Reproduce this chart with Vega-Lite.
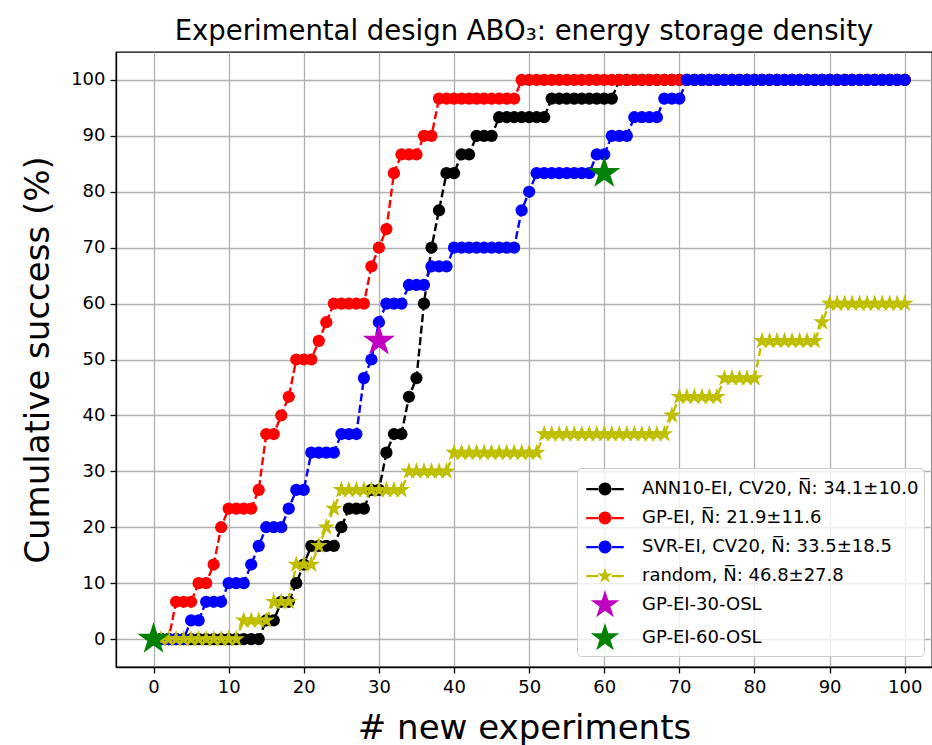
{
"$schema": "https://vega.github.io/schema/vega-lite/v6.json",
"width": 816, "height": 615,
"autosize": {"type": "none"},
"padding": {"left": 116, "top": 52, "right": 0, "bottom": 78},
"background": "white",
"title": {"text": "Experimental design ABO₃: energy storage density", "fontSize": 27.5, "font": "DejaVu Sans", "fontWeight": "normal", "color": "black", "offset": 7},
"config": {
  "font": "DejaVu Sans",
  "view": {"stroke": "black", "strokeWidth": 1.3},
  "axis": {"domainColor": "black", "domainWidth": 1.3, "tickColor": "black", "tickWidth": 1.3, "tickSize": 6, "labelFontSize": 18, "labelColor": "black", "labelFont": "DejaVu Sans", "titleFont": "DejaVu Sans", "titleFontWeight": "normal", "titleColor": "black", "gridColor": "#b0b0b0", "gridWidth": 1.3, "gridOpacity": 1, "labelPadding": 5}
},
"data": {"values": [
{"s":"A","x":0,"y":0},{"s":"A","x":1,"y":0},{"s":"A","x":2,"y":0},{"s":"A","x":3,"y":0},{"s":"A","x":4,"y":0},{"s":"A","x":5,"y":0},{"s":"A","x":6,"y":0},{"s":"A","x":7,"y":0},{"s":"A","x":8,"y":0},{"s":"A","x":9,"y":0},{"s":"A","x":10,"y":0},{"s":"A","x":11,"y":0},{"s":"A","x":12,"y":0},{"s":"A","x":13,"y":0},{"s":"A","x":14,"y":0},
{"s":"A","x":15,"y":3.33},{"s":"A","x":16,"y":3.33},{"s":"A","x":17,"y":6.67},{"s":"A","x":18,"y":6.67},{"s":"A","x":19,"y":10},{"s":"A","x":20,"y":13.33},
{"s":"A","x":21,"y":16.67},{"s":"A","x":22,"y":16.67},{"s":"A","x":23,"y":16.67},{"s":"A","x":24,"y":16.67},{"s":"A","x":25,"y":20},
{"s":"A","x":26,"y":23.33},{"s":"A","x":27,"y":23.33},{"s":"A","x":28,"y":23.33},{"s":"A","x":29,"y":26.67},{"s":"A","x":30,"y":26.67},
{"s":"A","x":31,"y":33.33},{"s":"A","x":32,"y":36.67},{"s":"A","x":33,"y":36.67},{"s":"A","x":34,"y":43.33},{"s":"A","x":35,"y":46.67},
{"s":"A","x":36,"y":60},{"s":"A","x":37,"y":70},{"s":"A","x":38,"y":76.67},{"s":"A","x":39,"y":83.33},{"s":"A","x":40,"y":83.33},
{"s":"A","x":41,"y":86.67},{"s":"A","x":42,"y":86.67},{"s":"A","x":43,"y":90},{"s":"A","x":44,"y":90},{"s":"A","x":45,"y":90},
{"s":"A","x":46,"y":93.33},{"s":"A","x":47,"y":93.33},{"s":"A","x":48,"y":93.33},{"s":"A","x":49,"y":93.33},{"s":"A","x":50,"y":93.33},{"s":"A","x":51,"y":93.33},{"s":"A","x":52,"y":93.33},
{"s":"A","x":53,"y":96.67},{"s":"A","x":54,"y":96.67},{"s":"A","x":55,"y":96.67},{"s":"A","x":56,"y":96.67},{"s":"A","x":57,"y":96.67},{"s":"A","x":58,"y":96.67},{"s":"A","x":59,"y":96.67},{"s":"A","x":60,"y":96.67},{"s":"A","x":61,"y":96.67},
{"s":"A","x":62,"y":100},{"s":"A","x":63,"y":100},{"s":"A","x":64,"y":100},{"s":"A","x":65,"y":100},{"s":"A","x":66,"y":100},{"s":"A","x":67,"y":100},{"s":"A","x":68,"y":100},{"s":"A","x":69,"y":100},{"s":"A","x":70,"y":100},
{"s":"A","x":71,"y":100},{"s":"A","x":72,"y":100},{"s":"A","x":73,"y":100},{"s":"A","x":74,"y":100},{"s":"A","x":75,"y":100},{"s":"A","x":76,"y":100},{"s":"A","x":77,"y":100},{"s":"A","x":78,"y":100},{"s":"A","x":79,"y":100},{"s":"A","x":80,"y":100},
{"s":"A","x":81,"y":100},{"s":"A","x":82,"y":100},{"s":"A","x":83,"y":100},{"s":"A","x":84,"y":100},{"s":"A","x":85,"y":100},{"s":"A","x":86,"y":100},{"s":"A","x":87,"y":100},{"s":"A","x":88,"y":100},{"s":"A","x":89,"y":100},{"s":"A","x":90,"y":100},
{"s":"A","x":91,"y":100},{"s":"A","x":92,"y":100},{"s":"A","x":93,"y":100},{"s":"A","x":94,"y":100},{"s":"A","x":95,"y":100},{"s":"A","x":96,"y":100},{"s":"A","x":97,"y":100},{"s":"A","x":98,"y":100},{"s":"A","x":99,"y":100},{"s":"A","x":100,"y":100},

{"s":"G","x":0,"y":0},{"s":"G","x":1,"y":0},{"s":"G","x":2,"y":0},{"s":"G","x":3,"y":6.67},{"s":"G","x":4,"y":6.67},{"s":"G","x":5,"y":6.67},
{"s":"G","x":6,"y":10},{"s":"G","x":7,"y":10},{"s":"G","x":8,"y":13.33},{"s":"G","x":9,"y":20},
{"s":"G","x":10,"y":23.33},{"s":"G","x":11,"y":23.33},{"s":"G","x":12,"y":23.33},{"s":"G","x":13,"y":23.33},{"s":"G","x":14,"y":26.67},
{"s":"G","x":15,"y":36.67},{"s":"G","x":16,"y":36.67},{"s":"G","x":17,"y":40},{"s":"G","x":18,"y":43.33},
{"s":"G","x":19,"y":50},{"s":"G","x":20,"y":50},{"s":"G","x":21,"y":50},{"s":"G","x":22,"y":53.33},{"s":"G","x":23,"y":56.67},
{"s":"G","x":24,"y":60},{"s":"G","x":25,"y":60},{"s":"G","x":26,"y":60},{"s":"G","x":27,"y":60},{"s":"G","x":28,"y":60},
{"s":"G","x":29,"y":66.67},{"s":"G","x":30,"y":70},{"s":"G","x":31,"y":73.33},{"s":"G","x":32,"y":83.33},
{"s":"G","x":33,"y":86.67},{"s":"G","x":34,"y":86.67},{"s":"G","x":35,"y":86.67},{"s":"G","x":36,"y":90},{"s":"G","x":37,"y":90},
{"s":"G","x":38,"y":96.67},{"s":"G","x":39,"y":96.67},{"s":"G","x":40,"y":96.67},{"s":"G","x":41,"y":96.67},{"s":"G","x":42,"y":96.67},{"s":"G","x":43,"y":96.67},{"s":"G","x":44,"y":96.67},{"s":"G","x":45,"y":96.67},{"s":"G","x":46,"y":96.67},{"s":"G","x":47,"y":96.67},{"s":"G","x":48,"y":96.67},
{"s":"G","x":49,"y":100},{"s":"G","x":50,"y":100},{"s":"G","x":51,"y":100},{"s":"G","x":52,"y":100},{"s":"G","x":53,"y":100},{"s":"G","x":54,"y":100},{"s":"G","x":55,"y":100},{"s":"G","x":56,"y":100},{"s":"G","x":57,"y":100},{"s":"G","x":58,"y":100},{"s":"G","x":59,"y":100},{"s":"G","x":60,"y":100},
{"s":"G","x":61,"y":100},{"s":"G","x":62,"y":100},{"s":"G","x":63,"y":100},{"s":"G","x":64,"y":100},{"s":"G","x":65,"y":100},{"s":"G","x":66,"y":100},{"s":"G","x":67,"y":100},{"s":"G","x":68,"y":100},{"s":"G","x":69,"y":100},{"s":"G","x":70,"y":100},
{"s":"G","x":71,"y":100},{"s":"G","x":72,"y":100},{"s":"G","x":73,"y":100},{"s":"G","x":74,"y":100},{"s":"G","x":75,"y":100},{"s":"G","x":76,"y":100},{"s":"G","x":77,"y":100},{"s":"G","x":78,"y":100},{"s":"G","x":79,"y":100},{"s":"G","x":80,"y":100},
{"s":"G","x":81,"y":100},{"s":"G","x":82,"y":100},{"s":"G","x":83,"y":100},{"s":"G","x":84,"y":100},{"s":"G","x":85,"y":100},{"s":"G","x":86,"y":100},{"s":"G","x":87,"y":100},{"s":"G","x":88,"y":100},{"s":"G","x":89,"y":100},{"s":"G","x":90,"y":100},
{"s":"G","x":91,"y":100},{"s":"G","x":92,"y":100},{"s":"G","x":93,"y":100},{"s":"G","x":94,"y":100},{"s":"G","x":95,"y":100},{"s":"G","x":96,"y":100},{"s":"G","x":97,"y":100},{"s":"G","x":98,"y":100},{"s":"G","x":99,"y":100},{"s":"G","x":100,"y":100},

{"s":"S","x":0,"y":0},{"s":"S","x":1,"y":0},{"s":"S","x":2,"y":0},{"s":"S","x":3,"y":0},{"s":"S","x":4,"y":0},{"s":"S","x":5,"y":3.33},{"s":"S","x":6,"y":3.33},
{"s":"S","x":7,"y":6.67},{"s":"S","x":8,"y":6.67},{"s":"S","x":9,"y":6.67},{"s":"S","x":10,"y":10},{"s":"S","x":11,"y":10},{"s":"S","x":12,"y":10},
{"s":"S","x":13,"y":13.33},{"s":"S","x":14,"y":16.67},{"s":"S","x":15,"y":20},{"s":"S","x":16,"y":20},{"s":"S","x":17,"y":20},{"s":"S","x":18,"y":23.33},
{"s":"S","x":19,"y":26.67},{"s":"S","x":20,"y":26.67},{"s":"S","x":21,"y":33.33},{"s":"S","x":22,"y":33.33},{"s":"S","x":23,"y":33.33},{"s":"S","x":24,"y":33.33},
{"s":"S","x":25,"y":36.67},{"s":"S","x":26,"y":36.67},{"s":"S","x":27,"y":36.67},{"s":"S","x":28,"y":46.67},{"s":"S","x":29,"y":50},{"s":"S","x":30,"y":56.67},
{"s":"S","x":31,"y":60},{"s":"S","x":32,"y":60},{"s":"S","x":33,"y":60},{"s":"S","x":34,"y":63.33},{"s":"S","x":35,"y":63.33},{"s":"S","x":36,"y":63.33},
{"s":"S","x":37,"y":66.67},{"s":"S","x":38,"y":66.67},{"s":"S","x":39,"y":66.67},
{"s":"S","x":40,"y":70},{"s":"S","x":41,"y":70},{"s":"S","x":42,"y":70},{"s":"S","x":43,"y":70},{"s":"S","x":44,"y":70},{"s":"S","x":45,"y":70},{"s":"S","x":46,"y":70},{"s":"S","x":47,"y":70},{"s":"S","x":48,"y":70},
{"s":"S","x":49,"y":76.67},{"s":"S","x":50,"y":80},
{"s":"S","x":51,"y":83.33},{"s":"S","x":52,"y":83.33},{"s":"S","x":53,"y":83.33},{"s":"S","x":54,"y":83.33},{"s":"S","x":55,"y":83.33},{"s":"S","x":56,"y":83.33},{"s":"S","x":57,"y":83.33},{"s":"S","x":58,"y":83.33},
{"s":"S","x":59,"y":86.67},{"s":"S","x":60,"y":86.67},{"s":"S","x":61,"y":90},{"s":"S","x":62,"y":90},{"s":"S","x":63,"y":90},
{"s":"S","x":64,"y":93.33},{"s":"S","x":65,"y":93.33},{"s":"S","x":66,"y":93.33},{"s":"S","x":67,"y":93.33},{"s":"S","x":68,"y":96.67},{"s":"S","x":69,"y":96.67},{"s":"S","x":70,"y":96.67},
{"s":"S","x":71,"y":100},{"s":"S","x":72,"y":100},{"s":"S","x":73,"y":100},{"s":"S","x":74,"y":100},{"s":"S","x":75,"y":100},{"s":"S","x":76,"y":100},{"s":"S","x":77,"y":100},{"s":"S","x":78,"y":100},{"s":"S","x":79,"y":100},{"s":"S","x":80,"y":100},
{"s":"S","x":81,"y":100},{"s":"S","x":82,"y":100},{"s":"S","x":83,"y":100},{"s":"S","x":84,"y":100},{"s":"S","x":85,"y":100},{"s":"S","x":86,"y":100},{"s":"S","x":87,"y":100},{"s":"S","x":88,"y":100},{"s":"S","x":89,"y":100},{"s":"S","x":90,"y":100},
{"s":"S","x":91,"y":100},{"s":"S","x":92,"y":100},{"s":"S","x":93,"y":100},{"s":"S","x":94,"y":100},{"s":"S","x":95,"y":100},{"s":"S","x":96,"y":100},{"s":"S","x":97,"y":100},{"s":"S","x":98,"y":100},{"s":"S","x":99,"y":100},{"s":"S","x":100,"y":100},

{"s":"R","x":0,"y":0},{"s":"R","x":1,"y":0},{"s":"R","x":2,"y":0},{"s":"R","x":3,"y":0},{"s":"R","x":4,"y":0},{"s":"R","x":5,"y":0},{"s":"R","x":6,"y":0},{"s":"R","x":7,"y":0},{"s":"R","x":8,"y":0},{"s":"R","x":9,"y":0},{"s":"R","x":10,"y":0},{"s":"R","x":11,"y":0},
{"s":"R","x":12,"y":3.33},{"s":"R","x":13,"y":3.33},{"s":"R","x":14,"y":3.33},{"s":"R","x":15,"y":3.33},{"s":"R","x":16,"y":6.67},{"s":"R","x":17,"y":6.67},{"s":"R","x":18,"y":6.67},
{"s":"R","x":19,"y":13.33},{"s":"R","x":20,"y":13.33},{"s":"R","x":21,"y":13.33},{"s":"R","x":22,"y":16.67},{"s":"R","x":23,"y":20},{"s":"R","x":24,"y":23.33},
{"s":"R","x":25,"y":26.67},{"s":"R","x":26,"y":26.67},{"s":"R","x":27,"y":26.67},{"s":"R","x":28,"y":26.67},{"s":"R","x":29,"y":26.67},{"s":"R","x":30,"y":26.67},{"s":"R","x":31,"y":26.67},{"s":"R","x":32,"y":26.67},{"s":"R","x":33,"y":26.67},
{"s":"R","x":34,"y":30},{"s":"R","x":35,"y":30},{"s":"R","x":36,"y":30},{"s":"R","x":37,"y":30},{"s":"R","x":38,"y":30},{"s":"R","x":39,"y":30},
{"s":"R","x":40,"y":33.33},{"s":"R","x":41,"y":33.33},{"s":"R","x":42,"y":33.33},{"s":"R","x":43,"y":33.33},{"s":"R","x":44,"y":33.33},{"s":"R","x":45,"y":33.33},{"s":"R","x":46,"y":33.33},{"s":"R","x":47,"y":33.33},{"s":"R","x":48,"y":33.33},{"s":"R","x":49,"y":33.33},{"s":"R","x":50,"y":33.33},{"s":"R","x":51,"y":33.33},
{"s":"R","x":52,"y":36.67},{"s":"R","x":53,"y":36.67},{"s":"R","x":54,"y":36.67},{"s":"R","x":55,"y":36.67},{"s":"R","x":56,"y":36.67},{"s":"R","x":57,"y":36.67},{"s":"R","x":58,"y":36.67},{"s":"R","x":59,"y":36.67},{"s":"R","x":60,"y":36.67},
{"s":"R","x":61,"y":36.67},{"s":"R","x":62,"y":36.67},{"s":"R","x":63,"y":36.67},{"s":"R","x":64,"y":36.67},{"s":"R","x":65,"y":36.67},{"s":"R","x":66,"y":36.67},{"s":"R","x":67,"y":36.67},{"s":"R","x":68,"y":36.67},
{"s":"R","x":69,"y":40},{"s":"R","x":70,"y":43.33},{"s":"R","x":71,"y":43.33},{"s":"R","x":72,"y":43.33},{"s":"R","x":73,"y":43.33},{"s":"R","x":74,"y":43.33},{"s":"R","x":75,"y":43.33},
{"s":"R","x":76,"y":46.67},{"s":"R","x":77,"y":46.67},{"s":"R","x":78,"y":46.67},{"s":"R","x":79,"y":46.67},{"s":"R","x":80,"y":46.67},
{"s":"R","x":81,"y":53.33},{"s":"R","x":82,"y":53.33},{"s":"R","x":83,"y":53.33},{"s":"R","x":84,"y":53.33},{"s":"R","x":85,"y":53.33},{"s":"R","x":86,"y":53.33},{"s":"R","x":87,"y":53.33},{"s":"R","x":88,"y":53.33},
{"s":"R","x":89,"y":56.67},{"s":"R","x":90,"y":60},{"s":"R","x":91,"y":60},{"s":"R","x":92,"y":60},{"s":"R","x":93,"y":60},{"s":"R","x":94,"y":60},{"s":"R","x":95,"y":60},{"s":"R","x":96,"y":60},{"s":"R","x":97,"y":60},{"s":"R","x":98,"y":60},{"s":"R","x":99,"y":60},{"s":"R","x":100,"y":60},

{"s":"P30","x":30,"y":53.33},
{"s":"P60","x":0,"y":0},{"s":"P60","x":60,"y":83.33}
]},
"encoding": {
  "x": {"field": "x", "type": "quantitative", "scale": {"domain": [-5, 103.63], "nice": false, "zero": false},
        "axis": {"values": [0,10,20,30,40,50,60,70,80,90,100], "title": "# new experiments", "titleFontSize": 34, "titlePadding": 15, "grid": true}},
  "y": {"field": "y", "type": "quantitative", "scale": {"domain": [-5, 105], "nice": false, "zero": false},
        "axis": {"values": [0,10,20,30,40,50,60,70,80,90,100], "title": "Cumulative success (%)", "titleFontSize": 34, "titlePadding": 15, "grid": true}}
},
"layer": [
  {"data": {"values": [{"s":"A","x":-50,"y":50},{"s":"G","x":-50,"y":50},{"s":"S","x":-50,"y":50},{"s":"R","x":-50,"y":50},{"s":"P30","x":-50,"y":50},{"s":"P60","x":-50,"y":50}]},
   "mark": {"type": "point", "filled": true, "clip": true, "opacity": 1},
   "encoding": {
     "color": {"field": "s", "type": "nominal",
       "scale": {"domain": ["A","G","S","R","P30","P60"], "range": ["#000000","#ff0000","#0000ff","#bfbf00","#bf00bf","#008000"]},
       "legend": {"title": null, "orient": "none", "legendX": 461, "legendY": 416, "padding": 5, "symbolOffset": 7, "symbolSize": 900, "labelOffset": 21, "rowPadding": 4, "labelFontSize": 18, "labelFont": "DejaVu Sans", "labelColor": "black", "labelLimit": 500, "fillColor": "rgba(255,255,255,0.8)", "strokeColor": "#cccccc", "cornerRadius": 4,
         "labelExpr": "datum.value === 'A' ? 'ANN10-EI, CV20, N\u0305: 34.1±10.0' : datum.value === 'G' ? 'GP-EI, N\u0305: 21.9±11.6' : datum.value === 'S' ? 'SVR-EI, CV20, N\u0305: 33.5±18.5' : datum.value === 'R' ? 'random, N\u0305: 46.8±27.8' : datum.value === 'P30' ? 'GP-EI-30-OSL' : 'GP-EI-60-OSL'"}},
     "shape": {"field": "s", "type": "nominal",
       "scale": {"domain": ["A","G","S","R","P30","P60"],
                 "range": ["M-1.25,-0.075L-0.4,-0.075L-0.4,0.075L-1.25,0.075ZM0.4,-0.075L1.25,-0.075L1.25,0.075L0.4,0.075ZM-0.43,0A0.43,0.43,0,1,0,0.43,0A0.43,0.43,0,1,0,-0.43,0Z",
                           "M-1.25,-0.075L-0.4,-0.075L-0.4,0.075L-1.25,0.075ZM0.4,-0.075L1.25,-0.075L1.25,0.075L0.4,0.075ZM-0.43,0A0.43,0.43,0,1,0,0.43,0A0.43,0.43,0,1,0,-0.43,0Z",
                           "M-1.25,-0.075L-0.4,-0.075L-0.4,0.075L-1.25,0.075ZM0.4,-0.075L1.25,-0.075L1.25,0.075L0.4,0.075ZM-0.43,0A0.43,0.43,0,1,0,0.43,0A0.43,0.43,0,1,0,-0.43,0Z",
                           "M-1.25,-0.075L-0.45,-0.075L-0.45,0.075L-1.25,0.075ZM0.45,-0.075L1.25,-0.075L1.25,0.075L0.45,0.075ZM0,-0.55L0.1235,-0.17L0.523,-0.17L0.1998,0.0649L0.3233,0.445L0,0.2101L-0.3233,0.445L-0.1998,0.0649L-0.523,-0.17L-0.1235,-0.17Z",
                           "M0,-1L0.2245,-0.309L0.9511,-0.309L0.3633,0.118L0.5878,0.809L0,0.382L-0.5878,0.809L-0.3633,0.118L-0.9511,-0.309L-0.2245,-0.309Z",
                           "M0,-1L0.2245,-0.309L0.9511,-0.309L0.3633,0.118L0.5878,0.809L0,0.382L-0.5878,0.809L-0.3633,0.118L-0.9511,-0.309L-0.2245,-0.309Z"]}}
   }},
  {"transform": [{"filter": "indexof(['A','G','S','R'], datum.s) >= 0"}],
   "mark": {"type": "line", "strokeDash": [8, 3.5], "strokeWidth": 2.4},
   "encoding": {"stroke": {"field": "s", "type": "nominal", "scale": {"domain": ["A","G","S","R"], "range": ["#000000","#ff0000","#0000ff","#bfbf00"]}, "legend": null}}},
  {"transform": [{"filter": "indexof(['A','G','S'], datum.s) >= 0"}],
   "mark": {"type": "point", "shape": "circle", "filled": true, "size": 150, "opacity": 1},
   "encoding": {"fill": {"field": "s", "type": "nominal", "scale": {"domain": ["A","G","S","R","P30","P60"], "range": ["#000000","#ff0000","#0000ff","#bfbf00","#bf00bf","#008000"]}, "legend": null}}},
  {"transform": [{"filter": "datum.s === 'R'"}],
   "mark": {"type": "point", "shape": "M0,-1L0.2245,-0.309L0.9511,-0.309L0.3633,0.118L0.5878,0.809L0,0.382L-0.5878,0.809L-0.3633,0.118L-0.9511,-0.309L-0.2245,-0.309Z", "filled": true, "size": 340, "opacity": 1},
   "encoding": {"fill": {"field": "s", "type": "nominal", "legend": null}}},
  {"transform": [{"filter": "datum.s === 'P30' || datum.s === 'P60'"}],
   "mark": {"type": "point", "shape": "M0,-1L0.2245,-0.309L0.9511,-0.309L0.3633,0.118L0.5878,0.809L0,0.382L-0.5878,0.809L-0.3633,0.118L-0.9511,-0.309L-0.2245,-0.309Z", "filled": true, "size": 1150, "opacity": 1},
   "encoding": {"fill": {"field": "s", "type": "nominal", "legend": null}}}
]
}
